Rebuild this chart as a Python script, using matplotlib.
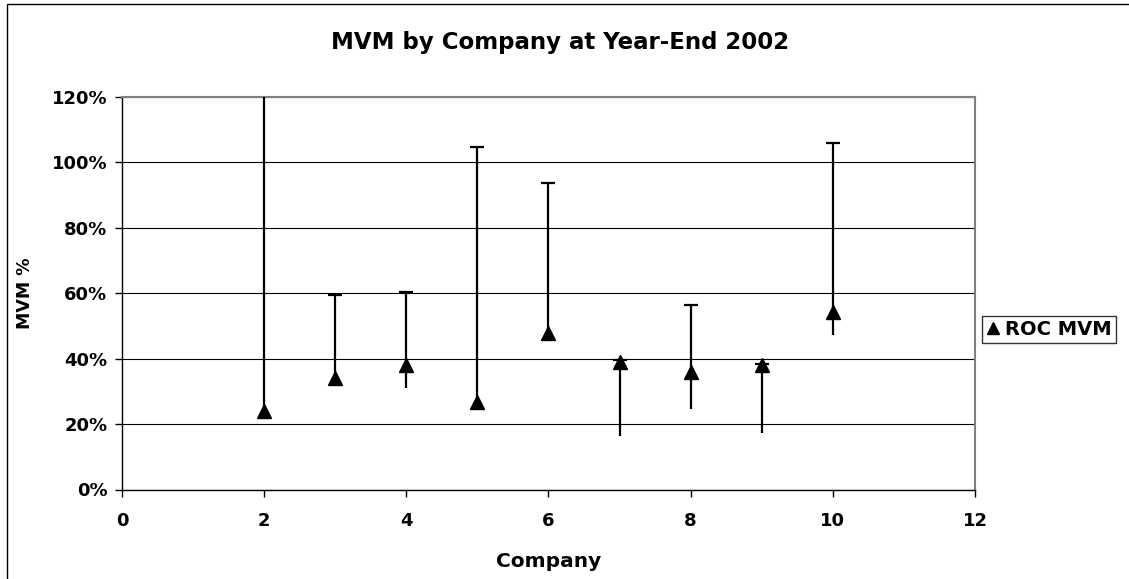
import matplotlib
matplotlib.use("Agg")
import matplotlib.pyplot as plt
from matplotlib.patches import Rectangle
from matplotlib.ticker import FuncFormatter, MultipleLocator
import numpy as np

plt.rcParams['font.family'] = ['DejaVu Sans']
plt.rcParams['font.weight'] = 'bold'

# MVM by company (percent)
companies = [2, 3, 4, 5, 6, 7, 8, 9, 10]
roc_mvm = [24.1, 34.2, 37.9, 26.7, 47.8, 39.1, 35.8, 38.1, 54.2]
mvm_high = [125.0, 59.5, 60.2, 104.6, 93.5, 39.7, 56.5, 38.2, 106.0]
mvm_low = [24.1, 34.2, 31.0, 26.7, 47.8, 16.2, 24.7, 17.2, 47.2]

title = "MVM by Company at Year-End 2002"
series_name = "ROC MVM"
x_label = "Company"
y_label = "MVM %"

W, H = 1129, 579
fig = plt.figure(figsize=(W / 100, H / 100), dpi=100)
fig.patch.set_facecolor('white')

# outer chart border (extends past the right and bottom edges)
fig.add_artist(Rectangle((7 / W, -0.1), 1.2, 1 - 4 / H + 0.1,
                         transform=fig.transFigure, fill=False,
                         edgecolor='black', lw=1.0))

ax = fig.add_axes([122 / W, 1 - 489.5 / H, (975 - 122) / W, (489.5 - 96.7) / H])

x = np.array(companies)
y = np.array(roc_mvm)
hi = np.array(mvm_high)
lo = np.array(mvm_low)

# high-low whiskers, capped at the high end only
ax.vlines(x, lo, hi, colors='black', lw=1.6, zorder=3)
ax.plot(x, hi, linestyle='none', marker='_', markersize=10,
        markeredgewidth=1.6, color='black', zorder=3)
ax.plot(x, y, linestyle='none', marker='^', markersize=9.5, color='black',
        label=series_name, zorder=4)

ax.set_xlim(0, 12)
ax.set_ylim(0, 120)
ax.xaxis.set_major_locator(MultipleLocator(2))
ax.yaxis.set_major_locator(MultipleLocator(20))
ax.yaxis.set_major_formatter(FuncFormatter(lambda v, p: f"{v:.0f}%"))

ax.grid(axis='y', color='black', lw=0.8)
ax.set_axisbelow(True)
for side in ('top', 'right'):
    ax.spines[side].set_color('#808080')
    ax.spines[side].set_linewidth(1.5)
for side in ('left', 'bottom'):
    ax.spines[side].set_color('black')
    ax.spines[side].set_linewidth(1.0)

ax.tick_params(direction='out', length=5, width=1, color='black',
               labelsize=13)
ax.tick_params(axis='x', pad=11)
ax.tick_params(axis='y', pad=5.5)
for lbl in ax.get_xticklabels() + ax.get_yticklabels():
    lbl.set_fontweight('bold')

ax.set_xlabel(x_label, fontsize=14.5, fontweight='bold', labelpad=16)
ax.set_ylabel(y_label, fontsize=12.5, fontweight='bold', labelpad=13)

fig.text(560 / W, 1 - 43 / H, title, ha='center', va='center',
         fontsize=16.5, fontweight='bold')

leg = ax.legend(loc='upper left', bbox_to_anchor=(982 / W, 1 - 316 / H),
                bbox_transform=fig.transFigure, frameon=True, fancybox=False,
                edgecolor='black', handlelength=0.7, handletextpad=0.3,
                borderpad=0.2, borderaxespad=0, prop={'weight': 'bold', 'size': 14},
                markerscale=0.95)
leg.get_frame().set_linewidth(1.0)

fig.savefig("out.png", dpi=100, facecolor='white')
